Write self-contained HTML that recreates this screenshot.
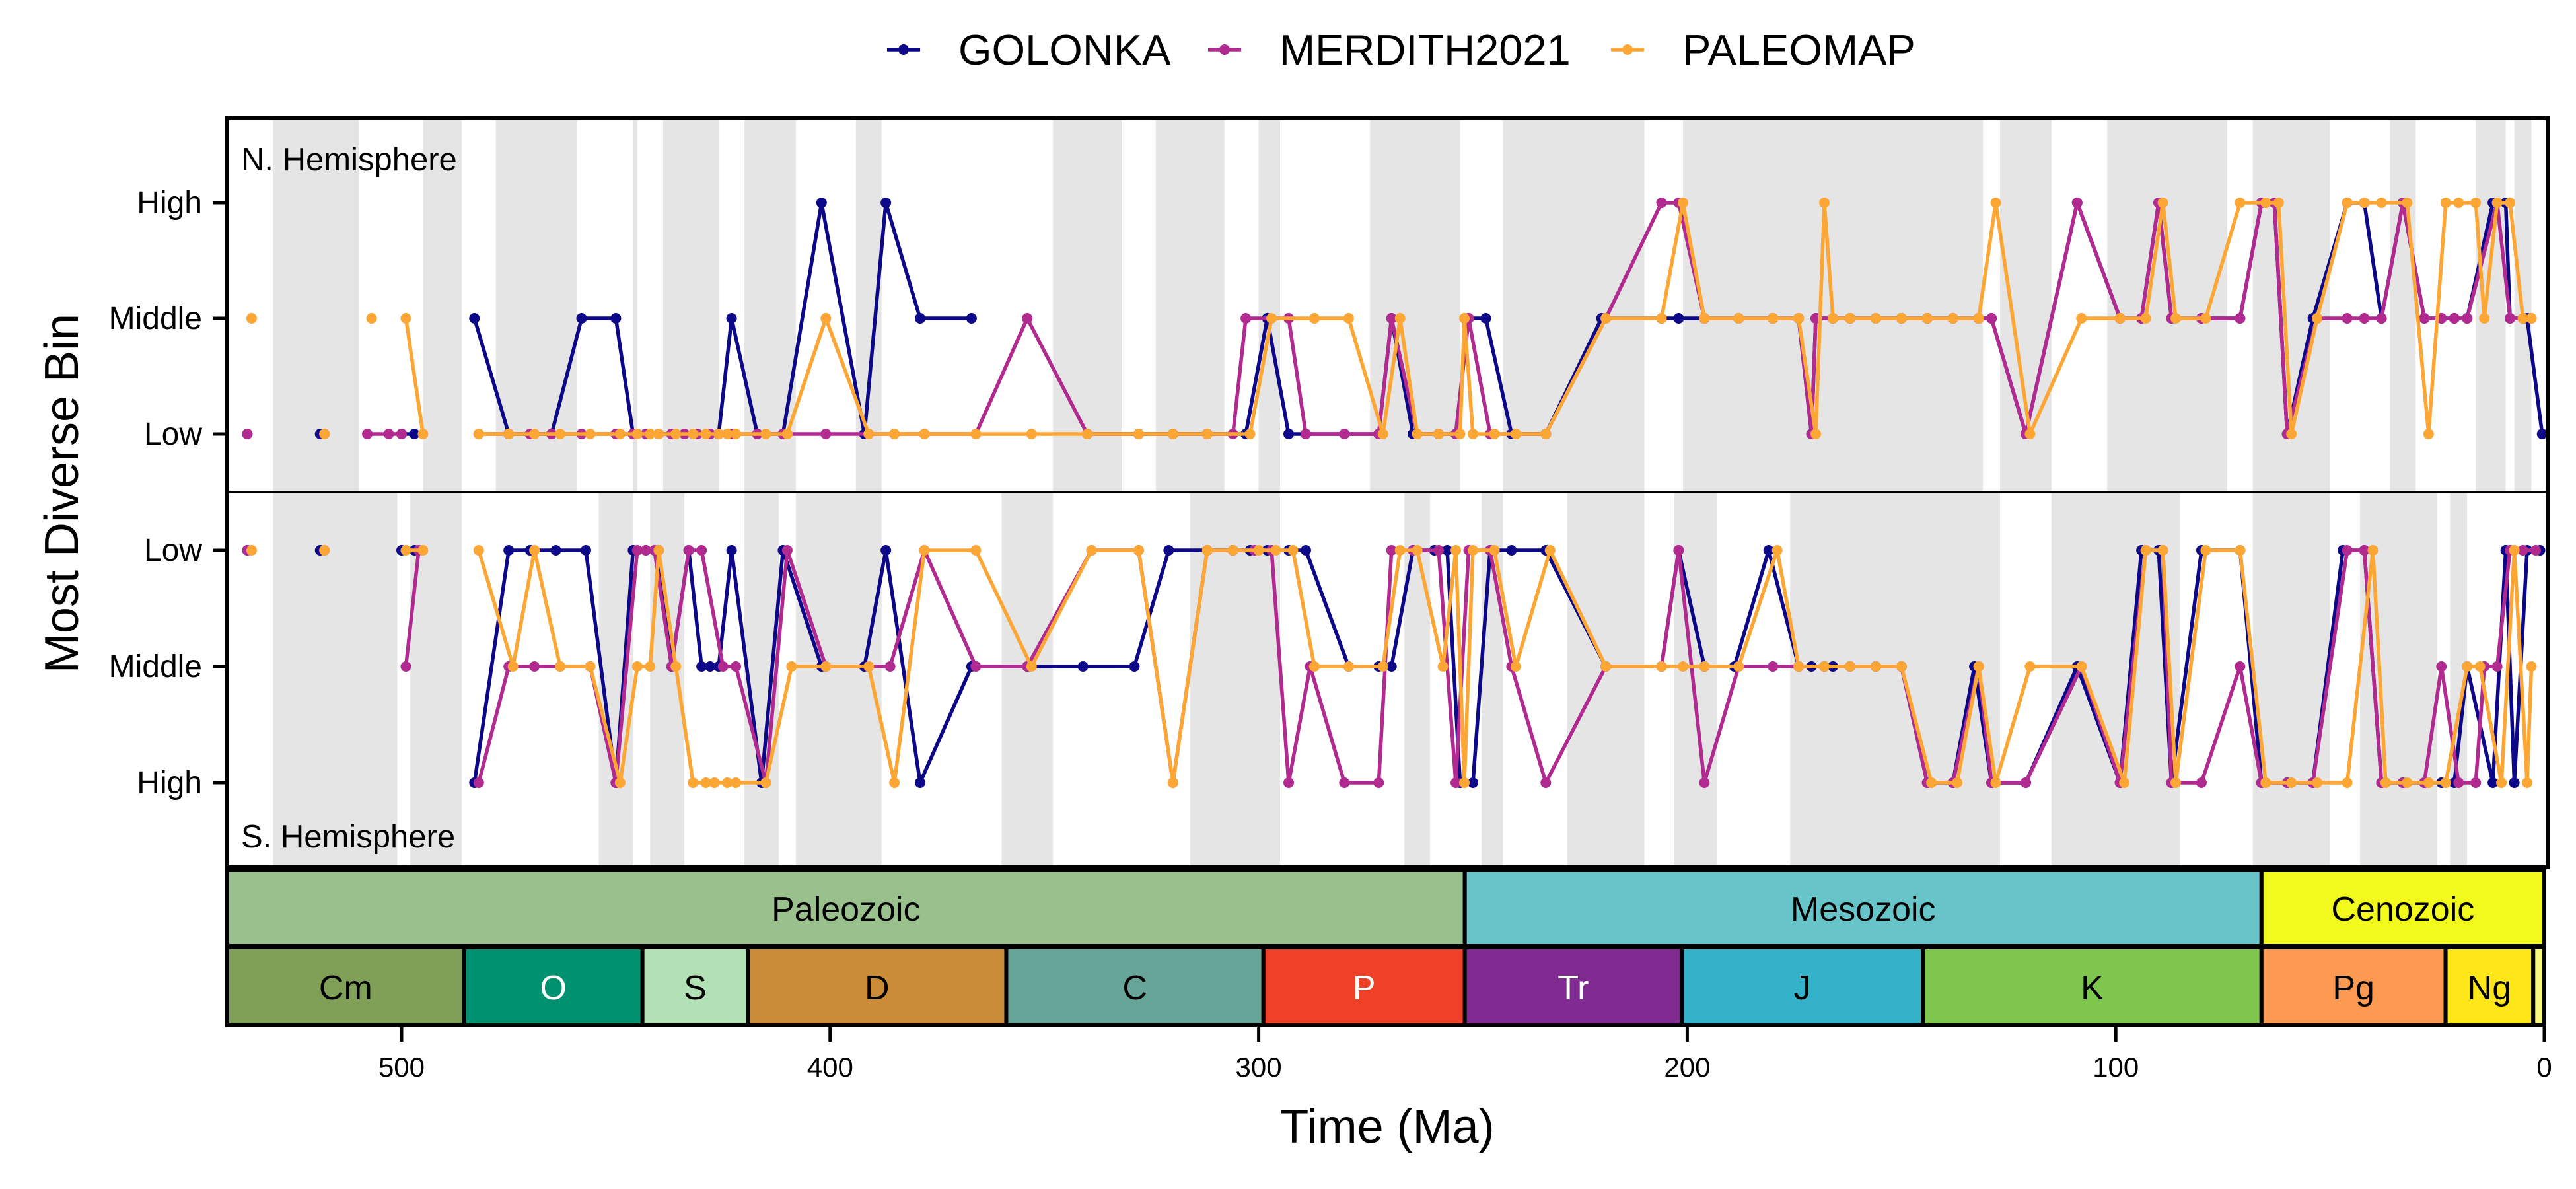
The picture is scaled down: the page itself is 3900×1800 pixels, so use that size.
<!DOCTYPE html>
<html><head><meta charset="utf-8"><style>
html,body{margin:0;padding:0;background:#fff;}
svg{display:block;font-family:"Liberation Sans",sans-serif;}
</style></head><body>
<svg id="chart" width="3900" height="1800" viewBox="0 0 3900 1800" xmlns="http://www.w3.org/2000/svg">
<g id="stripes"></g>
<g id="series"></g>
<g id="frame"></g>
<g id="timescale"></g>
<g id="axes"></g>
<g id="legend"></g>
</svg>
<script>
// ---- data: [age Ma, level] pairs, null = gap ----
const seriesNames = ["GOLONKA","MERDITH2021","PALEOMAP"];
const seriesColors = ["#0D0887","#B12A90","#FCA636"];
const levelLabelsN = ["Low","Middle","High"];
const levelLabelsS = ["Low","Middle","High"];
const xTicks = [500,400,300,200,100,0];

const golN = [[536,0],null,[519,0],null,[500,0],[497,0],null,[483,1],[475,0],[470,0],[465,0],[458,1],[450,1],[446,0],[443,0],[440,0],[437,0],[434,0],[431,0],[428,0],[426,0],[423,1],[417,0],[411,0],[402,2],[392,0],[387,2],[379,1],[367,1],null,[340,0],[328,0],[320,0],[312,0],[303,0],[298,1],[293,0],[289,0],[280,0],[272,0],[269,1],[264,0],[258,0],[254,0],[251,1],[247,1],[241,0],[233,0],[220,1],[206,1],[202,1],[196,1],[188,1],[180,1],[174,1],[171,0],[170,1],[166,1],[162,1],[156,1],[150,1],[144,1],[138,1],[132,1],[129,1],[121,0],[109,2],[99,1],[94,1],[90,2],[87,1],[80,1],[71,1],[66,2],[63,2],[60,0],[54,1],[46,2],[42,2],[38,1],[33,2],[28,1],[24,1],[21,1],[18,1],[12,2],[9,2],[8,1],[4,1],[0.5,0]];
const merN = [[536,0],null,[518,0],null,[508,0],[503,0],[500,0],null,[482,0],[475,0],[470,0],[465,0],[458,0],[450,0],[446,0],[443,0],[440,0],[437,0],[434,0],[431,0],[428,0],[426,0],[423,0],[417,0],[411,0],[401,0],[391,0],[385,0],[378,0],[366,0],[354,1],[340,0],[328,0],[320,0],[312,0],[306,0],[303,1],[293,1],[289,0],[280,0],[272,0],[269,1],[263,0],[258,0],[254,0],[251,1],[246,0],[240,0],[233,0],[219,1],[206,2],[202,2],[196,1],[188,1],[180,1],[174,1],[171,0],[170,1],[166,1],[162,1],[156,1],[150,1],[144,1],[138,1],[132,1],[129,1],[121,0],[109,2],[99,1],[94,1],[90,2],[87,1],[80,1],[71,1],[66,2],[63,2],[60,0],[53,1],[46,1],[42,1],[38,1],[33,2],[28,1],[24,1],[21,1],[18,1],[11,2],[8,1],[5,1],[3,1]];
const paleoN = [[535,1],null,[518,0],null,[507,1],null,[499,1],[495,0],null,[482,0],[475,0],[469,0],[463,0],[456,0],[449,0],[445,0],[442,0],[440,0],[436,0],[432,0],[429,0],[426,0],[424,0],[422,0],[415,0],[410,0],[401,1],[391,0],[385,0],[378,0],[366,0],[353,0],[340,0],[328,0],[320,0],[312,0],[302,0],[297,1],[287,1],[279,1],[271,0],[267,1],[263,0],[258,0],[253,0],[252,1],[250,0],[245,0],[240,0],[233,0],[219,1],[206,1],[201,2],[196,1],[188,1],[180,1],[174,1],[170,0],[168,2],[166,1],[162,1],[156,1],[150,1],[144,1],[138,1],[132,1],[128,2],[120,0],[108,1],[99,1],[93,1],[89,2],[86,1],[79,1],[71,2],[65,2],[62,2],[59,0],[53,1],[46,2],[42,2],[38,2],[32,2],[27,0],[23,2],[20,2],[16,2],[14,1],[11,2],[8,2],[5,1],[3,1]];
const golS = [[536,0],null,[519,0],null,[500,0],[497,0],null,[483,2],[475,0],[470,0],[464,0],[457,0],[450,2],[446,0],[443,0],[440,0],[437,1],[433,0],[430,1],[428,1],[426,1],[423,0],[416,2],[411,0],[402,1],[392,1],[387,0],[379,2],[367,1],[354,1],[341,1],[329,1],[321,0],[312,0],[306,0],[302,0],[298,0],[293,0],[289,0],[279,1],[272,1],[269,1],[264,0],[259,0],[256,0],[253,2],[250,2],[246,0],[241,0],[233,0],[219,1],[206,1],[202,0],[196,1],[189,1],[181,0],[174,1],[171,1],[168,1],[166,1],[162,1],[156,1],[150,1],[144,2],[138,2],[133,1],[129,2],[121,2],[109,1],[99,2],[94,0],[90,0],[87,2],[80,0],[71,0],[66,2],[60,2],[54,2],[47,0],[42,0],[38,2],[33,2],[28,2],[24,2],[21,2],[18,1],[12,2],[9,0],[7,2],[4,0],[1,0]];
const merS = [[536,0],null,[518,0],null,[499,1],[496,0],null,[482,2],[475,1],[469,1],[463,1],[456,1],[450,2],[445,0],[443,0],[441,0],[437,1],[433,0],[430,0],[425,1],[422,1],[415,2],[410,0],[401,1],[391,1],[386,1],[378,0],[366,1],[354,1],[339,0],[328,0],[320,2],[312,0],[306,0],[301,0],[297,0],[293,2],[288,1],[280,2],[272,2],[269,0],[264,0],[258,0],[254,2],[251,0],[246,0],[241,1],[233,2],[219,1],[206,1],[202,0],[196,2],[188,1],[180,1],[174,1],[168,1],[162,1],[156,1],[150,1],[144,2],[138,2],[132,1],[129,2],[121,2],[108,1],[99,2],[93,0],[89,0],[87,2],[80,2],[71,1],[66,2],[60,2],[54,2],[46,0],[42,0],[38,2],[33,2],[28,2],[24,1],[20,2],[16,2],[14,1],[11,1],[8,0],[5,0],[2,0]];
const paleoS = [[535,0],null,[518,0],null,[499,0],[495,0],null,[482,0],[474,1],[469,0],[463,1],[456,1],[449,2],[445,1],[442,1],[440,0],[436,1],[432,2],[429,2],[427,2],[424,2],[422,2],[415,2],[409,1],[401,1],[391,1],[385,2],[378,0],[366,0],[353,1],[339,0],[328,0],[320,2],[312,0],[306,0],[300,0],[296,0],[292,0],[287,1],[279,1],[271,1],[267,0],[263,0],[257,1],[254,0],[252,2],[250,0],[245,0],[240,1],[232,0],[219,1],[206,1],[201,1],[196,1],[188,1],[179,0],[174,1],[168,1],[162,1],[156,1],[150,1],[143,2],[137,2],[132,1],[128,2],[120,1],[108,1],[98,2],[93,0],[89,0],[86,2],[79,0],[71,0],[65,2],[59,2],[53,2],[46,2],[40,0],[37,2],[32,2],[27,2],[23,2],[18,1],[15,1],[10,2],[7,0],[4,2],[3,1]];

const stripesN = [[530,510],[495,486],[478,459],[446,445],[439,426],[420,408],[394,388],[348,332],[324,308],[300,295],[274,253],[243,210],[201,131],[127,115],[102,74],[68,50],[36,30],[16,9],[7,3]];
const stripesS = [[530,501],[498,486],[454,446],[442,434],[420,412],[408,388],[360,348],[316,295],[266,260],[248,243],[228,210],[203,193],[176,127],[115,85],[68,50],[43,25],[22,18]];

const eraNames = ["Paleozoic","Mesozoic","Cenozoic"];
const eraStart = [541,251.9,66];
const eraEnd = [251.9,66,0];
const eraColors = ["#99C08D","#67C5CA","#F2F91D"];
const perNames = ["Cm","O","S","D","C","P","Tr","J","K","Pg","Ng",""];
const perStart = [541,485.4,443.8,419.2,358.9,298.9,251.9,201.3,145,66,23.03,2.58];
const perEnd = [485.4,443.8,419.2,358.9,298.9,251.9,201.3,145,66,23.03,2.58,0];
const perColors = ["#7FA056","#009270","#B3E1B6","#CB8C37","#67A599","#F04028","#812B92","#34B2C9","#7FC64E","#FD9A52","#FFE619","#F9F97F"];
const perWhite = ["O","P","Tr"];

// ---- layout ----
const NS="http://www.w3.org/2000/svg";
const L=344,R=3857,T=179,MID=745,B=1313;
const xs = t => 3852 - 6.488*t;
const yN = l => 657 - 175*l;
const yS = l => 833 + 176*l;
function mk(tag, attrs, parent){const e=document.createElementNS(NS,tag);for(const k in attrs)e.setAttribute(k,attrs[k]);parent.appendChild(e);return e;}

const gS=document.getElementById('stripes');
stripesN.forEach(s=>{const x1=Math.max(L,xs(s[0])),x2=Math.min(R,xs(s[1]));
 const r=mk('rect',{x:x1,y:T,width:x2-x1,height:MID-T,fill:'#E5E5E5'},gS);
 
 });
stripesS.forEach(s=>{const x1=Math.max(L,xs(s[0])),x2=Math.min(R,xs(s[1]));
 const r=mk('rect',{x:x1,y:MID,width:x2-x1,height:B-MID,fill:'#E5E5E5'},gS);
 
 });

const gSer=document.getElementById('series');
const sets=[[golN,golS],[merN,merS],[paleoN,paleoS]];
function drawSeries(data,yf,col,name){
 const g=mk('g',{},gSer);
 
 
 let d='',pen=false;const pts=[];
 data.forEach(p=>{
  if(p===null){pen=false;return;}
  const x=xs(p[0]),y=yf(p[1]);
  d+=(pen?'L':'M')+x.toFixed(1)+' '+y.toFixed(1);pen=true;pts.push([x,y]);
 });
 const p=mk('path',{d:d,fill:'none',stroke:col,'stroke-width':5.5,'stroke-linejoin':'round'},g);
 
 
 pts.forEach(q=>{const c=mk('circle',{cx:q[0],cy:q[1],r:8,fill:col},g);
  
  });
}
sets.forEach((s,i)=>{
 drawSeries(s[0],yN,seriesColors[i],seriesNames[i].toLowerCase()+'-north');
 drawSeries(s[1],yS,seriesColors[i],seriesNames[i].toLowerCase()+'-south');
});

const gF=document.getElementById('frame');
mk('rect',{x:L,y:T,width:R-L,height:B-T,fill:'none',stroke:'#000','stroke-width':6},gF);
mk('line',{x1:L,x2:R,y1:MID,y2:MID,stroke:'#000','stroke-width':3},gF);
let tx=mk('text',{x:365,y:258,'font-size':49},gF);tx.textContent='N. Hemisphere';


tx=mk('text',{x:365,y:1283,'font-size':49},gF);tx.textContent='S. Hemisphere';



const gT=document.getElementById('timescale');
eraNames.forEach((n,i)=>{const x1=Math.max(L,xs(eraStart[i])),x2=Math.min(R,xs(eraEnd[i]));
 const r=mk('rect',{x:x1,y:1317,width:x2-x1,height:115,fill:eraColors[i],stroke:'#000','stroke-width':6},gT);
 
 
 const t=mk('text',{x:(x1+x2)/2,y:1394,'font-size':52,'text-anchor':'middle'},gT);t.textContent=n;
 
 });
perNames.forEach((n,i)=>{const x1=Math.max(L,xs(perStart[i])),x2=Math.min(R,xs(perEnd[i]));
 const r=mk('rect',{x:x1,y:1434,width:x2-x1,height:118,fill:perColors[i],stroke:'#000','stroke-width':6},gT);
 
 
 if(n){const t=mk('text',{x:(x1+x2)/2,y:1513,'font-size':52,'text-anchor':'middle',fill:perWhite.includes(n)?'#fff':'#000'},gT);t.textContent=n;
 
 }});

const gA=document.getElementById('axes');
xTicks.forEach(v=>{const x=xs(v);
 mk('line',{x1:x,x2:x,y1:1555,y2:1577,stroke:'#000','stroke-width':5},gA);
 const t=mk('text',{x:x,y:1630,'font-size':42,'text-anchor':'middle'},gA);t.textContent=v;
 
 });
levelLabelsN.forEach((n,i)=>{const y=yN(i);
 mk('line',{x1:322,x2:344,y1:y,y2:y,stroke:'#000','stroke-width':5},gA);
 const t=mk('text',{x:306,y:y+16,'font-size':48,'text-anchor':'end'},gA);t.textContent=n;
 
 });
levelLabelsS.forEach((n,i)=>{const y=yS(i);
 mk('line',{x1:322,x2:344,y1:y,y2:y,stroke:'#000','stroke-width':5},gA);
 const t=mk('text',{x:306,y:y+16,'font-size':48,'text-anchor':'end'},gA);t.textContent=n;
 
 });
tx=mk('text',{x:2100,y:1730,'font-size':72,'text-anchor':'middle'},gA);tx.textContent='Time (Ma)';


tx=mk('text',{x:0,y:0,'font-size':72,'text-anchor':'middle',transform:'translate(118,747) rotate(-90)'},gA);tx.textContent='Most Diverse Bin';



const gL=document.getElementById('legend');
const legX=[1343,1829,2439];
seriesNames.forEach((n,i)=>{const g=mk('g',{},gL);
 
 
 mk('line',{x1:legX[i],x2:legX[i]+50,y1:75,y2:75,stroke:seriesColors[i],'stroke-width':5.5},g);
 mk('circle',{cx:legX[i]+25,cy:75,r:8,fill:seriesColors[i]},g);
 const t=mk('text',{x:legX[i]+108,y:98,'font-size':65},g);t.textContent=n;
 
 });
</script>
</body></html>
